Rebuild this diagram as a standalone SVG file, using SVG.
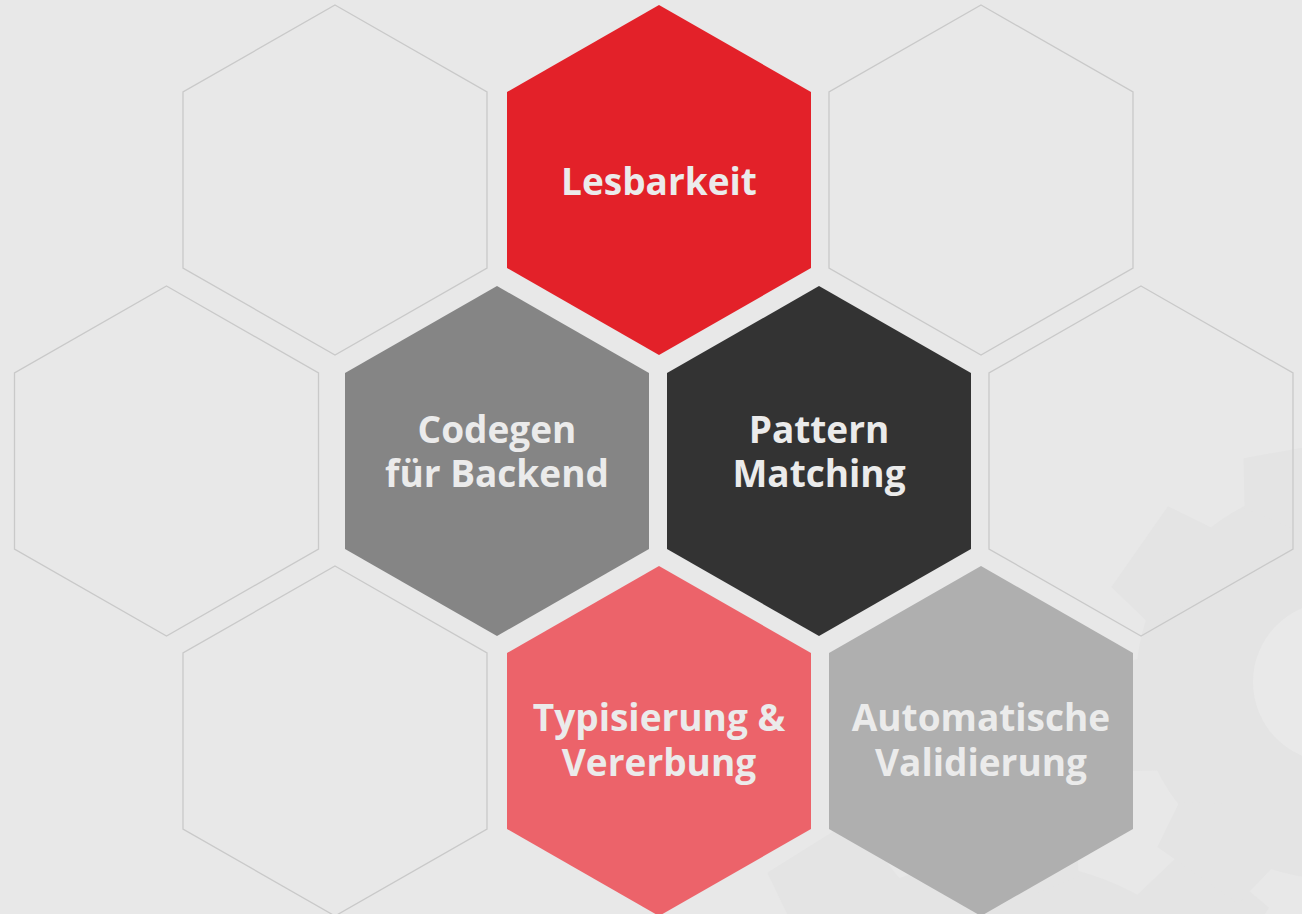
<svg xmlns="http://www.w3.org/2000/svg" width="1302" height="914" viewBox="0 0 1302 914">
<style>
.bg{fill:#e8e8e8}
.gear{fill:#e4e4e4}
.outline{fill:none;stroke:#c9c9c9;stroke-width:1.3}
.lbl{font-family:"Open Sans","Noto Sans",sans-serif;font-weight:700;font-size:37px;fill:#ebebeb;text-anchor:middle}
</style>
<defs>
<polygon id="hex" points="0,-175 152,-88 152,88 0,175 -152,88 -152,-88"/>
<polygon id="toothA" points="-57,-186.5 -49.3,-236 49.3,-236 57,-186.5 0,-150"/>
<polygon id="toothB" points="-59.3,-278.8 -50.4,-358.5 50.4,-358.5 59.3,-278.8 0,-250"/>
</defs>
<rect class="bg" x="0" y="0" width="1302" height="914"/>
<g id="gear2" class="gear" transform="translate(1000,1150) rotate(4)">
<circle r="290"/>
<use href="#toothB" transform="rotate(0)"/>
<use href="#toothB" transform="rotate(36)"/>
<use href="#toothB" transform="rotate(72)"/>
<use href="#toothB" transform="rotate(-36)"/>
<use href="#toothB" transform="rotate(-72)"/>
</g>
<g id="gear1" class="gear" transform="translate(1333,682)">
<circle r="197"/>
<use href="#toothA" transform="rotate(-10)"/>
<use href="#toothA" transform="rotate(35)"/>
<use href="#toothA" transform="rotate(80)"/>
<use href="#toothA" transform="rotate(125)"/>
<use href="#toothA" transform="rotate(170)"/>
<use href="#toothA" transform="rotate(215)"/>
<use href="#toothA" transform="rotate(260)"/>
<use href="#toothA" transform="rotate(305)"/>
<circle r="80" fill="#e9e9e9"/>
</g>
<g id="outlines">
<use href="#hex" class="outline" x="335" y="180"/>
<use href="#hex" class="outline" x="981" y="180"/>
<use href="#hex" class="outline" x="166.5" y="461"/>
<use href="#hex" class="outline" x="1141" y="461"/>
<use href="#hex" class="outline" x="335" y="741"/>
</g>
<g id="lesbarkeit">
<use href="#hex" x="659" y="180" fill="#e32129"/>
<text class="lbl" x="659" y="195">Lesbarkeit</text>
</g>
<g id="codegen">
<use href="#hex" x="497" y="461" fill="#858585"/>
<text class="lbl" x="497" y="443">Codegen</text>
<text class="lbl" x="497" y="487">für Backend</text>
</g>
<g id="pattern">
<use href="#hex" x="819" y="461" fill="#333333"/>
<text class="lbl" x="819" y="443">Pattern</text>
<text class="lbl" x="819" y="487">Matching</text>
</g>
<g id="typisierung">
<use href="#hex" x="659" y="741" fill="#ec636a"/>
<text class="lbl" x="659" y="731">Typisierung &amp;</text>
<text class="lbl" x="659" y="776">Vererbung</text>
</g>
<g id="validierung">
<use href="#hex" x="981" y="741" fill="#afafaf"/>
<text class="lbl" x="981" y="731">Automatische</text>
<text class="lbl" x="981" y="776">Validierung</text>
</g>
<g id="connectors"/>
</svg>
